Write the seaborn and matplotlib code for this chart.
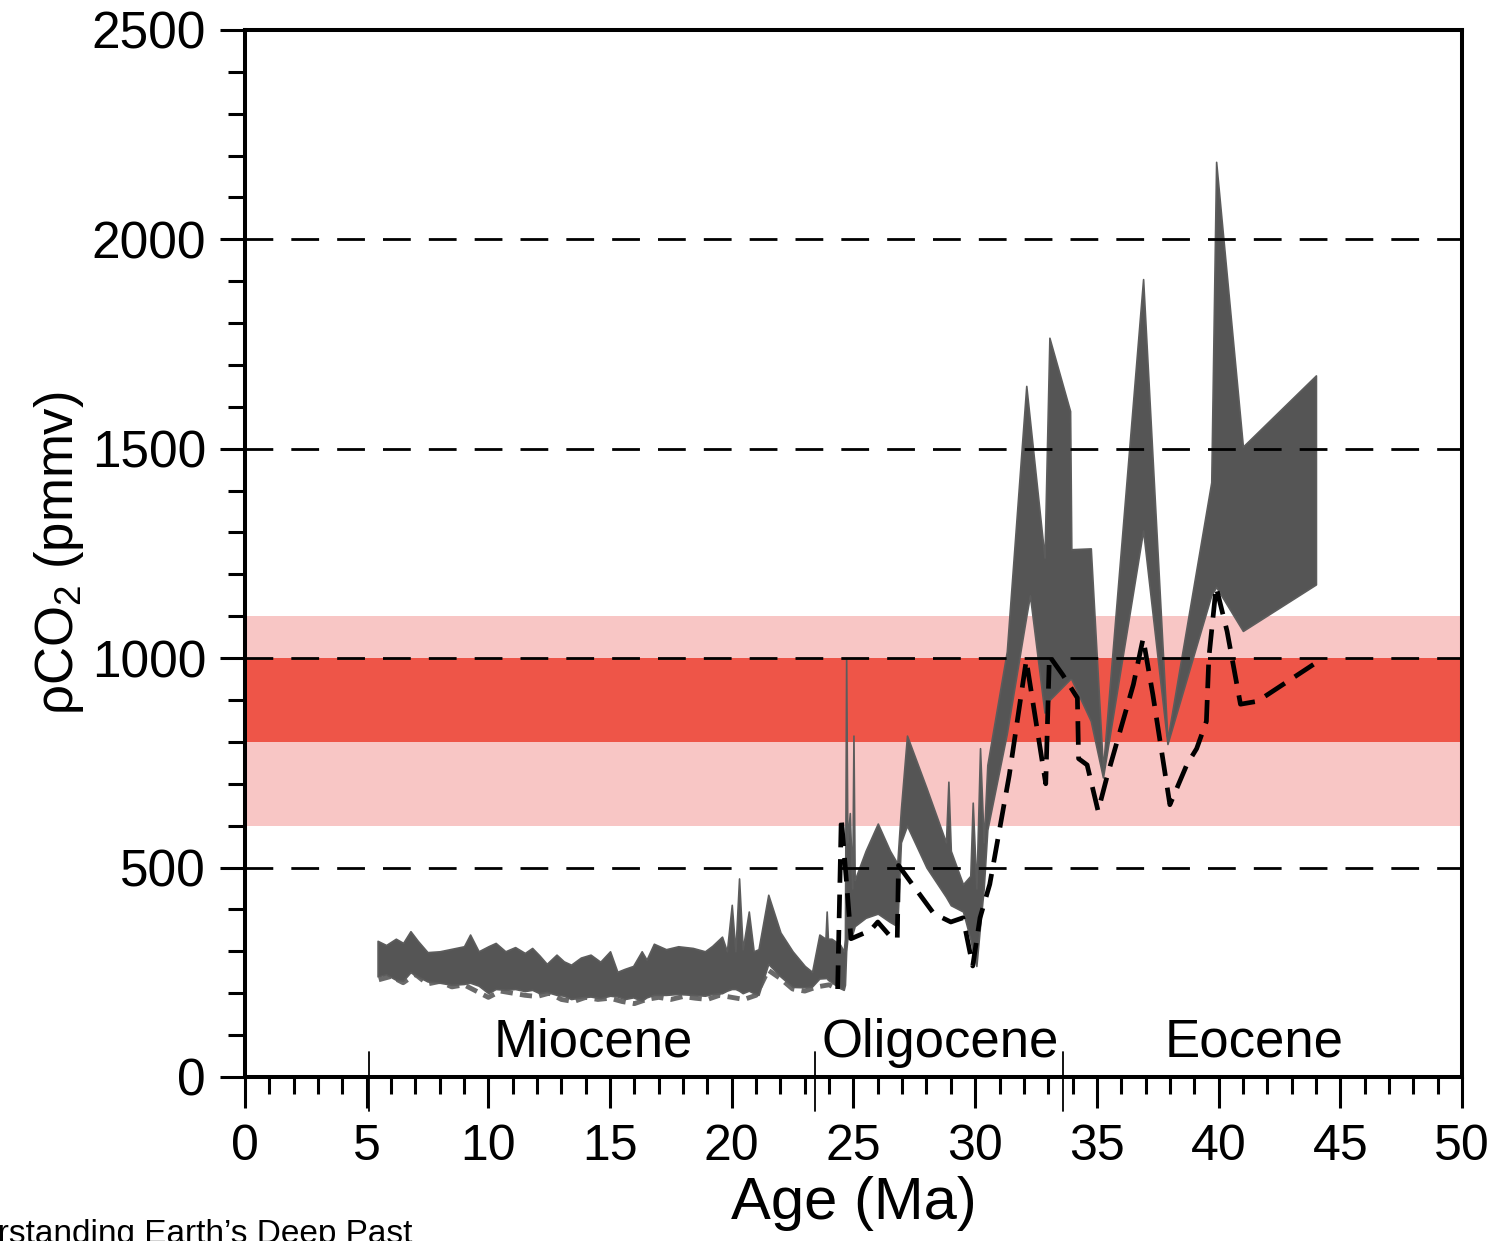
import numpy as np
import pandas as pd
import matplotlib.pyplot as plt
import seaborn as sns
from matplotlib.ticker import MultipleLocator
import matplotlib.transforms as mtransforms

sns.set_theme(style="ticks")
plt.rcParams['font.family'] = ['Liberation Sans', 'DejaVu Sans']
plt.rcParams['mathtext.fontset'] = 'custom'
plt.rcParams['mathtext.rm'] = 'Liberation Sans'
plt.rcParams['mathtext.it'] = 'Liberation Sans:italic'
plt.rcParams.update({'text.color': 'black', 'axes.labelcolor': 'black',
                     'xtick.color': 'black', 'ytick.color': 'black'})

# grey envelope of the proxy record: age (Ma), lower / upper pCO2 (ppmv)
band_age = [5.45, 5.8, 6.2, 6.5, 6.8, 7.1, 7.5, 8.0, 8.5, 9.0, 9.25, 9.6, 10.0, 10.3,
            10.7, 11.1, 11.5, 11.8, 12.1, 12.4, 12.8, 13.1, 13.4, 13.8, 14.2, 14.6,
            15.0, 15.3, 15.6, 15.95, 16.3, 16.5, 16.8, 17.3, 17.8, 18.4, 18.9, 19.2,
            19.6, 19.8, 20.0, 20.15, 20.3, 20.45, 20.7, 20.9, 21.1, 21.5, 22.0, 22.5,
            23.0, 23.3, 23.6, 23.85, 23.9, 23.95, 24.1, 24.45, 24.6,
            24.65, 24.7, 24.75, 24.85, 24.95, 25.0, 25.05, 25.5, 26.0, 26.5, 26.8,
            26.95, 27.2, 28.0, 28.8, 28.9, 29.0, 29.5, 29.8, 29.9, 30.05, 30.2, 30.35,
            30.5, 31.3, 32.1, 32.25, 32.85, 33.05, 33.9, 33.95, 34.75, 35.25, 36.9,
            37.9, 39.7, 39.9, 41.0, 44.0]
band_lower = [240, 245, 232, 230, 250, 240, 228, 225, 220, 222, 225, 218, 200, 210,
              208, 210, 205, 208, 200, 203, 196, 194, 186, 190, 192, 188,
              194, 192, 186, 190, 182, 190, 196, 196, 198, 196, 194, 198,
              200, 206, 210, 210, 206, 200, 206, 200, 196, 270, 240, 215,
              214, 216, 235, 236, 236, 232, 226, 212, 208,
              220, 300, 330, 330, 340, 350, 360, 380, 390, 370, 360,
              560, 600, 500, 430, 420, 410, 395, 330, 300, 265, 360, 450,
              590, 820, 1100, 1150, 870, 900, 950, 950, 850, 715, 1305,
              795, 1150, 1170, 1065, 1176]
band_upper = [325, 315, 330, 320, 348, 325, 298, 300, 306, 312, 340, 300, 312, 320,
              300, 310, 296, 308, 290, 270, 292, 276, 268, 285, 292, 275,
              300, 251, 258, 265, 300, 280, 318, 305, 312, 308, 300, 313,
              335, 300, 411, 300, 474, 305, 395, 300, 305, 435, 345, 300,
              265, 251, 340, 330, 395, 330, 330, 316, 300,
              330, 1000, 560, 630, 450, 815, 470, 540, 605, 540, 510,
              640, 815, 690, 560, 705, 540, 460, 480, 655, 450, 785, 560,
              745, 1016, 1650, 1568, 1240, 1765, 1590, 1260, 1262, 735, 1905,
              805, 1420, 2185, 1505, 1675]

# dashed lower-bound estimate, grey through the Miocene
mio_age = [5.5, 6.0, 6.5, 7.0, 7.5, 8.0, 8.5, 9.0, 9.5, 10.0, 10.5, 11.0, 11.5, 12.0,
           12.5, 13.0, 13.5, 14.0, 14.5, 15.0, 15.5, 16.0, 16.5, 17.0, 17.5, 18.0,
           18.5, 19.0, 19.5, 20.0, 20.5, 21.0, 21.5, 22.0, 22.5, 23.0, 23.5, 24.0, 24.35]
mio_co2 = [232, 240, 225, 245, 222, 228, 215, 220, 205, 190, 205, 200, 195, 192,
           200, 185, 180, 190, 185, 188, 180, 175, 185, 190, 185, 192,
           188, 185, 195, 190, 185, 195, 255, 235, 210, 205, 215, 220, 210]

# dashed black line, Oligocene-Eocene
dash_age = [24.35, 24.5, 24.9, 25.7, 26.0, 26.6, 26.8, 26.85, 28.3, 29.0, 29.5, 29.9,
            30.2, 30.6, 31.4, 32.1, 32.9, 33.05, 33.6, 34.2, 34.25, 34.6, 35.05, 35.4,
            36.5, 36.9, 37.3, 38.0, 38.7, 39.1, 39.5, 39.6, 39.9, 40.35, 40.9, 41.6,
            42.2, 43.9]
dash_co2 = [210, 620, 330, 350, 370, 330, 330, 505, 390, 370, 380, 265,
            380, 460, 720, 995, 700, 1005, 960, 905, 760, 745, 635, 713,
            937, 1047, 913, 650, 746, 784, 849, 1000, 1170, 1064, 890, 897,
            920, 985]

grid_levels = [500, 1000, 1500, 2000]
epoch_bounds = [5.1, 23.4, 33.6]
epoch_names = ['Miocene', 'Oligocene', 'Eocene']
epoch_centers = [14.3, 28.55, 41.45]

fig = plt.figure(figsize=(14.99, 12.41), dpi=100)
ax = fig.add_axes([0.1634, 0.1322, 0.8119, 0.8437])

# target ranges
ax.axhspan(600, 1100, color='#f8c6c5', lw=0, zorder=1)
ax.axhspan(800, 1000, color='#ee5548', lw=0, zorder=1.1)

ax.fill_between(band_age, band_lower, band_upper, color='#555555', lw=1.2,
                edgecolor='#5c5c5c', zorder=2)

for lev in grid_levels:
    ax.axhline(lev, color='black', lw=2.0, ls=(0, (10, 6.5)), zorder=3)

mio = pd.DataFrame({'age': mio_age, 'co2': mio_co2})
dash = pd.DataFrame({'age': dash_age, 'co2': dash_co2})
sns.lineplot(data=mio, x='age', y='co2', ax=ax, color='#6a6a6a', lw=3.5,
             estimator=None, zorder=1.9)
ax.lines[-1].set_linestyle((0, (2.5, 1.5)))
sns.lineplot(data=dash, x='age', y='co2', ax=ax, color='black', lw=3.4,
             estimator=None, zorder=4)
ax.lines[-1].set_linestyle((0, (5, 2.5)))

# epoch boundaries and names
trans = mtransforms.blended_transform_factory(ax.transData, ax.transAxes)
for b in epoch_bounds:
    ax.plot([b, b], [-0.033, 0.024], transform=trans, color='black', lw=1.3,
            clip_on=False, zorder=5)
for name, c in zip(epoch_names, epoch_centers):
    ax.text(c, 48, name, ha='center', va='baseline', fontsize=38, zorder=5)

ax.set_xlim(0, 50)
ax.set_ylim(0, 2500)
ax.xaxis.set_major_locator(MultipleLocator(5))
ax.xaxis.set_minor_locator(MultipleLocator(1))
ax.yaxis.set_major_locator(MultipleLocator(500))
ax.yaxis.set_minor_locator(MultipleLocator(100))
ax.tick_params(axis='both', which='both', direction='out', width=2.2, colors='black')
ax.tick_params(axis='x', which='major', length=22, pad=12, labelsize=36)
ax.tick_params(axis='x', which='minor', length=12)
ax.tick_params(axis='y', which='major', length=18, pad=10, labelsize=37)
ax.tick_params(axis='y', which='minor', length=12)
for s in ax.spines.values():
    s.set_linewidth(2.9)
    s.set_color('black')
    s.set_zorder(6)

ax.set_xlabel('Age (Ma)', fontsize=43, labelpad=4)
ax.set_ylabel('\u03c1CO$_2$ (pmmv)', fontsize=38, labelpad=4)

fig.text(-0.055, -0.002, 'Understanding Earth\u2019s Deep Past', fontsize=24,
         ha='left', va='baseline')

fig.savefig('out.png', dpi=100)
